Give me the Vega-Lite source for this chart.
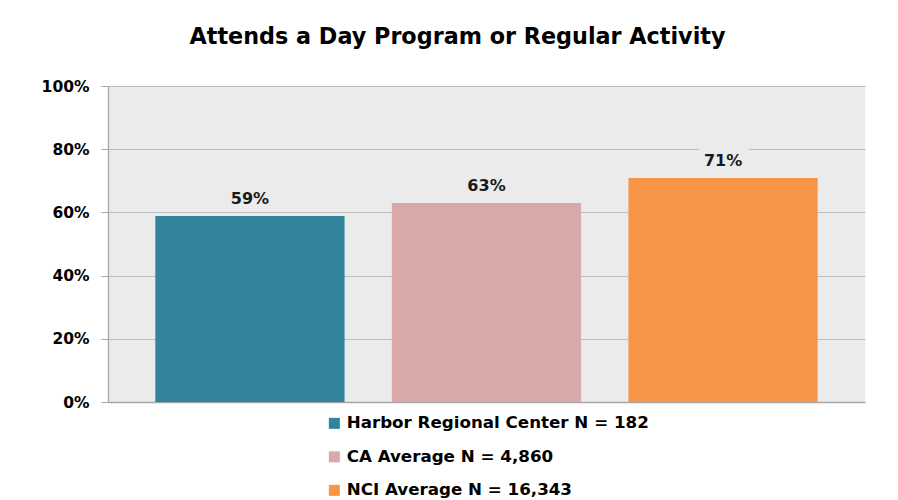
{
  "$schema": "https://vega.github.io/schema/vega-lite/v6.json",
  "width": 757,
  "height": 316,
  "autosize": {"type": "none"},
  "padding": {"left": 108, "top": 86, "right": 33, "bottom": 98},
  "background": "white",
  "title": {
    "text": "Attends a Day Program or Regular Activity",
    "font": "DejaVu Sans",
    "fontSize": 22.3,
    "fontWeight": "bold",
    "color": "#000000",
    "anchor": "middle",
    "frame": "group",
    "dx": -29,
    "offset": 31
  },
  "data": {
    "values": [
      {"group": "Harbor Regional Center N = 182", "value": 0.589},
      {"group": "CA Average N = 4,860", "value": 0.63},
      {"group": "NCI Average N = 16,343", "value": 0.709}
    ]
  },
  "encoding": {
    "x": {
      "field": "group",
      "type": "nominal",
      "sort": null,
      "scale": {"paddingInner": 0.2, "paddingOuter": 0.2},
      "axis": {"labels": false, "ticks": false, "title": null, "domainColor": "#A6A6A6", "domainWidth": 1.5}
    },
    "y": {
      "field": "value",
      "type": "quantitative",
      "scale": {"domain": [0, 1]},
      "axis": {
        "values": [0, 0.2, 0.4, 0.6, 0.8, 1],
        "format": ".0%",
        "title": null,
        "labelFont": "DejaVu Sans",
        "labelFontWeight": "bold",
        "labelFontSize": 15.5,
        "labelColor": "#000000",
        "tickSize": 7,
        "tickColor": "#A6A6A6",
        "labelPadding": 12,
        "gridColor": "#BDBDBD",
        "gridWidth": 1.2,
        "domainColor": "#A6A6A6",
        "domainWidth": 1.2
      }
    }
  },
  "layer": [
    {
      "mark": {"type": "bar"},
      "encoding": {
        "color": {
          "field": "group",
          "type": "nominal",
          "sort": null,
          "scale": {
            "domain": ["Harbor Regional Center N = 182", "CA Average N = 4,860", "NCI Average N = 16,343"],
            "range": ["#31849B", "#D9A9A9", "#F79646"]
          },
          "legend": {
            "title": null,
            "orient": "none",
            "legendX": 218,
            "legendY": 329,
            "symbolType": "square",
            "symbolSize": 121,
            "symbolStrokeWidth": 0,
            "labelFont": "DejaVu Sans",
            "labelFontSize": 16.7,
            "labelFontWeight": "bold",
            "labelColor": "#000000",
            "labelOffset": 4,
            "labelLimit": 500,
            "rowPadding": 15.5
          }
        }
      }
    },
    {
      "mark": {"type": "text", "dy": -12, "baseline": "alphabetic", "font": "DejaVu Sans", "fontSize": 16, "fontWeight": "bold", "stroke": "#EBEBEB", "strokeWidth": 12, "fill": "#EBEBEB"},
      "encoding": {"text": {"field": "value", "type": "quantitative", "format": ".0%"}}
    },
    {
      "mark": {"type": "text", "dy": -12, "baseline": "alphabetic", "font": "DejaVu Sans", "fontSize": 16, "fontWeight": "bold", "color": "#1a1a1a"},
      "encoding": {"text": {"field": "value", "type": "quantitative", "format": ".0%"}}
    }
  ],
  "config": {
    "view": {"fill": "#EBEBEB", "stroke": null}
  }
}
